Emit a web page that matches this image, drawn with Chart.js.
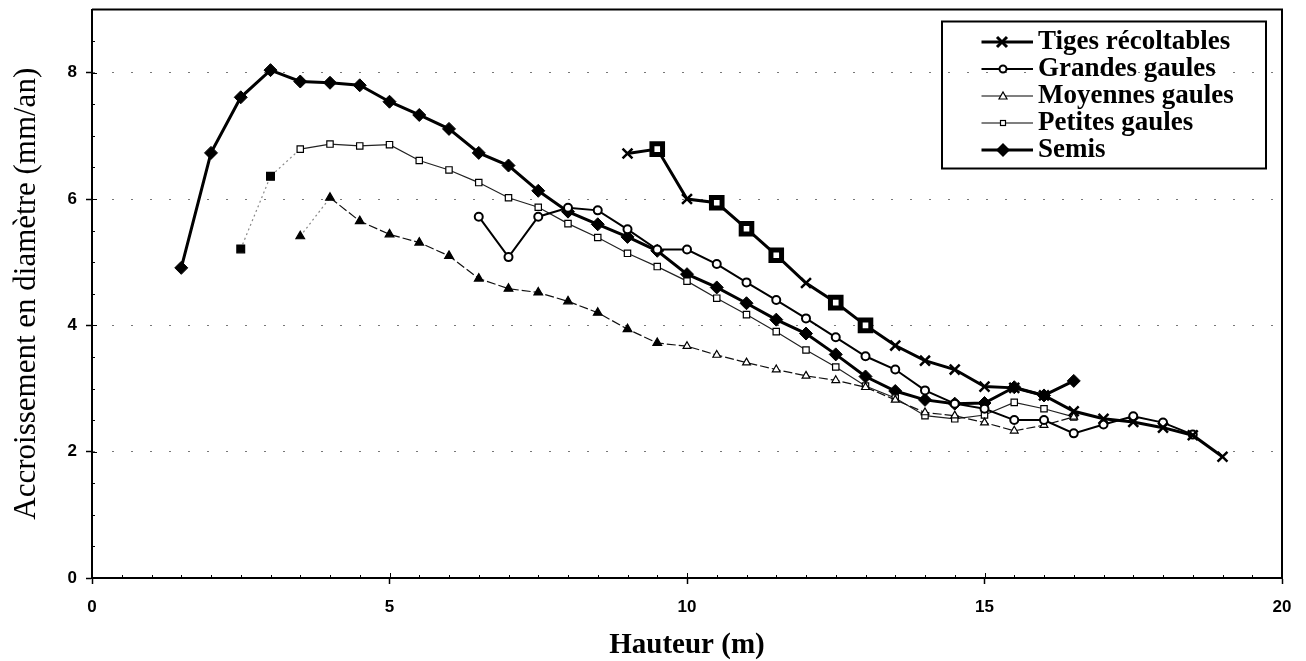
<!DOCTYPE html>
<html><head><meta charset="utf-8">
<script src="https://cdn.jsdelivr.net/npm/chart.js@4.4.1/dist/chart.umd.min.js"></script>
<style>html,body{margin:0;padding:0;background:#fff;}#wrap{width:1306px;height:661px;}</style>
</head><body><div id="wrap"><canvas id="c" width="1306" height="661"></canvas></div>
<script>
// ---------- data ----------
const seriesNames = ['Tiges récoltables', 'Grandes gaules', 'Moyennes gaules', 'Petites gaules', 'Semis'];
const xTitle = 'Hauteur (m)';
const yTitle = 'Accroissement en diamètre (mm/an)';

const tigesX = [9, 9.5, 10, 10.5, 11, 11.5, 12, 12.5, 13, 13.5, 14, 14.5, 15, 15.5, 16, 16.5, 17, 17.5, 18, 18.5, 19];
const tigesY = [6.72, 6.79, 6.00, 5.94, 5.53, 5.11, 4.67, 4.36, 4.00, 3.68, 3.44, 3.30, 3.03, 3.01, 2.89, 2.64, 2.52, 2.47, 2.38, 2.26, 1.92];
const tigesSquareAt = [9.5, 10.5, 11, 11.5, 12.5, 13];

const grandesX = [6.5, 7, 7.5, 8, 8.5, 9, 9.5, 10, 10.5, 11, 11.5, 12, 12.5, 13, 13.5, 14, 14.5, 15, 15.5, 16, 16.5, 17, 17.5, 18, 18.5];
const grandesY = [5.72, 5.08, 5.72, 5.86, 5.82, 5.52, 5.20, 5.20, 4.97, 4.68, 4.40, 4.11, 3.81, 3.51, 3.30, 2.97, 2.76, 2.68, 2.50, 2.50, 2.29, 2.43, 2.56, 2.46, 2.27];

const moyennesX = [3.5, 4, 4.5, 5, 5.5, 6, 6.5, 7, 7.5, 8, 8.5, 9, 9.5, 10, 10.5, 11, 11.5, 12, 12.5, 13, 13.5, 14, 14.5, 15, 15.5, 16, 16.5];
const moyennesY = [5.41, 6.02, 5.65, 5.44, 5.31, 5.10, 4.74, 4.58, 4.52, 4.38, 4.20, 3.94, 3.72, 3.67, 3.53, 3.41, 3.30, 3.20, 3.13, 3.02, 2.82, 2.62, 2.57, 2.46, 2.33, 2.42, 2.55];

const petitesX = [2.5, 3, 3.5, 4, 4.5, 5, 5.5, 6, 6.5, 7, 7.5, 8, 8.5, 9, 9.5, 10, 10.5, 11, 11.5, 12, 12.5, 13, 13.5, 14, 14.5, 15, 15.5, 16, 16.5];
const petitesY = [5.21, 6.36, 6.79, 6.87, 6.84, 6.86, 6.61, 6.46, 6.26, 6.02, 5.87, 5.61, 5.39, 5.14, 4.93, 4.70, 4.43, 4.17, 3.90, 3.61, 3.34, 3.04, 2.85, 2.57, 2.52, 2.58, 2.78, 2.68, 2.55];

const semisX = [1.5, 2, 2.5, 3, 3.5, 4, 4.5, 5, 5.5, 6, 6.5, 7, 7.5, 8, 8.5, 9, 9.5, 10, 10.5, 11, 11.5, 12, 12.5, 13, 13.5, 14, 14.5, 15, 15.5, 16, 16.5];
const semisY = [4.91, 6.73, 7.61, 8.04, 7.86, 7.84, 7.80, 7.54, 7.33, 7.11, 6.73, 6.53, 6.13, 5.80, 5.60, 5.40, 5.18, 4.81, 4.60, 4.35, 4.09, 3.87, 3.54, 3.19, 2.96, 2.82, 2.76, 2.77, 3.02, 2.89, 3.12];

const xTicks = [0, 5, 10, 15, 20];
const yTicks = [0, 2, 4, 6, 8];

// ---------- helpers ----------
const pts = (xs, ys) => xs.map((x, i) => ({x: x, y: ys[i]}));
const rawX = c => (c && c.raw && typeof c.raw.x === 'number') ? c.raw.x : null;

function makeSample(draw) {
  const c = document.createElement('canvas');
  c.width = 60; c.height = 18;
  const g = c.getContext('2d');
  g.strokeStyle = '#000'; g.fillStyle = '#000';
  draw(g);
  return c;
}
function sampleLine(g, w) { g.lineWidth = w; g.beginPath(); g.moveTo(0, 9); g.lineTo(60, 9); g.stroke(); }
const samples = [
  makeSample(g => { sampleLine(g, 3); g.lineWidth = 3; g.beginPath(); g.moveTo(24, 4); g.lineTo(34, 14); g.moveTo(34, 4); g.lineTo(24, 14); g.stroke(); }),
  makeSample(g => { sampleLine(g, 2); g.lineWidth = 2; g.beginPath(); g.arc(30, 9, 3.5, 0, Math.PI * 2); g.fillStyle = '#fff'; g.fill(); g.stroke(); }),
  makeSample(g => { sampleLine(g, 1.2); g.lineWidth = 1.2; g.beginPath(); g.moveTo(26, 12); g.lineTo(34, 12); g.lineTo(30, 5); g.closePath(); g.fillStyle = '#fff'; g.fill(); g.stroke(); }),
  makeSample(g => { sampleLine(g, 1.2); g.lineWidth = 1.2; g.fillStyle = '#fff'; g.fillRect(27, 6, 6, 6); g.strokeRect(27.5, 6.5, 5, 5); }),
  makeSample(g => { sampleLine(g, 3); g.beginPath(); g.moveTo(30, 2); g.lineTo(37, 9); g.lineTo(30, 16); g.lineTo(23, 9); g.closePath(); g.fill(); })
];

const serif = "'Liberation Serif', 'Times New Roman', serif";
const sans = "'Liberation Sans', Arial, sans-serif";

const legendPlace = {
  id: 'legendPlace',
  afterLayout(chart) {
    const lg = chart.legend; const ca = chart.chartArea;
    if (!lg) return;
    lg.left = ca.right - 300.5;
    lg.right = lg.left + lg.width;
    lg.top = ca.top + 19;
    lg.bottom = lg.top + 220;
  }
};

const extras = {
  id: 'extras',
  afterDraw(chart) {
    const {ctx, chartArea: ca, scales} = chart;
    const x = scales.x, y = scales.y;
    ctx.save();
    ctx.strokeStyle = '#000';
    ctx.lineWidth = 2;
    ctx.beginPath();
    ctx.moveTo(ca.left, ca.top); ctx.lineTo(ca.right, ca.top); ctx.lineTo(ca.right, ca.bottom);
    ctx.stroke();
    ctx.lineWidth = 1;
    ctx.beginPath();
    for (let v = 0.5; v < 9; v += 0.5) {
      const py = Math.round(y.getPixelForValue(v)) + 0.5;
      const len = (v % 2 === 0) ? 5 : 3;
      ctx.moveTo(ca.left, py); ctx.lineTo(ca.left + len, py);
    }
    for (let v = 0.5; v < 20; v += 0.5) {
      const px = Math.round(x.getPixelForValue(v)) + 0.5;
      const len = (v % 5 === 0) ? 5 : 3;
      ctx.moveTo(px, ca.bottom); ctx.lineTo(px, ca.bottom - len);
    }
    ctx.stroke();
    ctx.lineWidth = 2;
    ctx.strokeRect(ca.right - 340, ca.top + 12, 324, 147);
    ctx.restore();
  }
};

new Chart(document.getElementById('c'), {
  type: 'scatter',
  data: {
    datasets: [
      {
        label: seriesNames[0], data: pts(tigesX, tigesY), showLine: true,
        borderColor: '#000', borderWidth: 3, backgroundColor: '#000',
        pointStyle: c => tigesSquareAt.includes(rawX(c)) ? 'rect' : 'crossRot',
        pointRadius: c => tigesSquareAt.includes(rawX(c)) ? 7.5 : 7,
        pointBorderWidth: c => tigesSquareAt.includes(rawX(c)) ? 5 : 2.5,
        pointBorderColor: '#000', pointBackgroundColor: '#fff'
      },
      {
        label: seriesNames[1], data: pts(grandesX, grandesY), showLine: true,
        borderColor: '#000', borderWidth: 2, backgroundColor: '#fff',
        pointStyle: 'circle', pointRadius: 4, pointBorderWidth: 2,
        pointBorderColor: '#000', pointBackgroundColor: '#fff'
      },
      {
        label: seriesNames[2], data: pts(moyennesX, moyennesY), showLine: true,
        borderColor: '#111', borderWidth: 1.2, backgroundColor: '#fff',
        borderDash: [9, 3],
        segment: {
          borderDash: c => c.p0.parsed.x < 3.9 ? [2, 3] : undefined,
          borderColor: c => c.p0.parsed.x < 3.9 ? '#888' : undefined
        },
        pointStyle: 'triangle',
        pointRadius: c => { const v = rawX(c); return (v !== null && v <= 9.5) ? 5 : 4.5; },
        pointBorderWidth: 1.2,
        pointBorderColor: '#000',
        pointBackgroundColor: c => { const v = rawX(c); return (v !== null && v <= 9.5) ? '#000' : '#fff'; }
      },
      {
        label: seriesNames[3], data: pts(petitesX, petitesY), showLine: true,
        borderColor: '#222', borderWidth: 1.2, backgroundColor: '#fff',
        segment: {
          borderDash: c => c.p0.parsed.x < 3.4 ? [2, 3] : undefined,
          borderColor: c => c.p0.parsed.x < 3.4 ? '#888' : undefined
        },
        pointStyle: 'rect',
        pointRadius: c => { const v = rawX(c); return (v !== null && v <= 3) ? 5.5 : 4.5; },
        pointBorderWidth: 1.2,
        pointBorderColor: '#000',
        pointBackgroundColor: c => { const v = rawX(c); return (v !== null && v <= 3) ? '#000' : '#fff'; }
      },
      {
        label: seriesNames[4], data: pts(semisX, semisY), showLine: true,
        borderColor: '#000', borderWidth: 3, backgroundColor: '#000',
        pointStyle: 'rectRot', pointRadius: 6.5, pointBorderWidth: 1,
        pointBorderColor: '#000', pointBackgroundColor: '#000'
      }
    ]
  },
  options: {
    responsive: false,
    animation: false,
    devicePixelRatio: 1,
    layout: {padding: {left: 0, right: 24, top: 9, bottom: 0}},
    plugins: {
      tooltip: {enabled: false},
      legend: {
        display: true,
        position: 'chartArea',
        align: 'start',
        labels: {
          usePointStyle: true,
          pointStyleWidth: 43,
          boxHeight: 18,
          padding: 0,
          color: '#000',
          textAlign: 'left',
          font: {family: serif, size: 27, weight: 'bold'},
          generateLabels: chart => chart.data.datasets.map((ds, i) => ({
            text: ds.label, pointStyle: samples[i], fillStyle: '#000', strokeStyle: '#000',
            lineWidth: 0, hidden: false, datasetIndex: i, textAlign: 'left', fontColor: '#000'
          }))
        }
      }
    },
    scales: {
      x: {
        type: 'linear', min: 0, max: 20,
        afterFit: s => { s.height = 83; s.paddingLeft = 0; s.paddingRight = 0; },
        afterBuildTicks: s => { s.ticks = xTicks.map(v => ({value: v})); },
        ticks: {stepSize: 5, padding: 13, color: '#000', font: {family: sans, size: 17, weight: 'bold'}, includeBounds: false},
        grid: {color: 'transparent', tickColor: '#000', tickLength: 6, tickWidth: 1.5},
        border: {display: true, color: '#000', width: 2},
        title: {display: true, text: xTitle, color: '#000', font: {family: serif, size: 29, weight: 'bold', lineHeight: 1.1}, padding: {top: 0, bottom: 0}}
      },
      y: {
        type: 'linear', min: 0, max: 9,
        afterFit: s => { s.width = 92; s.paddingTop = 0; s.paddingBottom = 0; },
        afterBuildTicks: s => { s.ticks = yTicks.map(v => ({value: v})); },
        ticks: {stepSize: 2, padding: 9, color: '#000', font: {family: sans, size: 17, weight: 'bold'}, includeBounds: false},
        grid: {
          color: c => (c.tick && c.tick.value > 0) ? '#777' : 'transparent',
          lineWidth: 1, tickColor: '#000', tickLength: 6, tickWidth: 1.5
        },
        border: {display: true, color: '#000', width: 2, dash: [2, 17]},
        title: {display: true, text: yTitle, color: '#000', font: {family: serif, size: 31, lineHeight: 1.2}, padding: {top: 8, bottom: 0}}
      }
    }
  },
  plugins: [legendPlace, extras]
});
</script>
</body></html>
